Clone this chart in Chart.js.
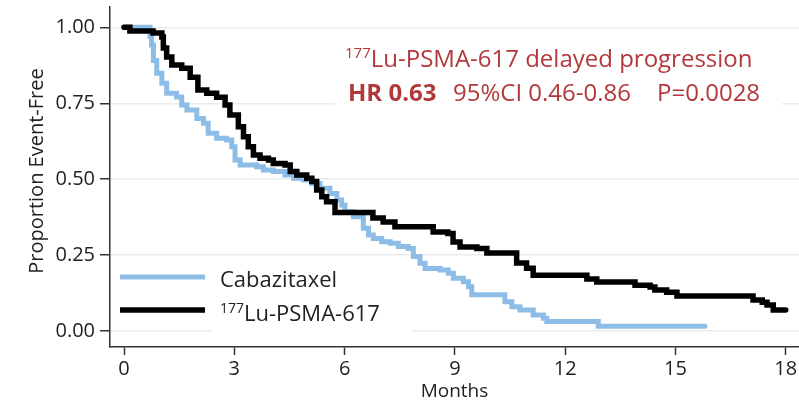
<!DOCTYPE html>
<html><head><meta charset="utf-8">
<script src="https://cdn.jsdelivr.net/npm/chart.js@4"></script>
<style>html,body{margin:0;padding:0;background:#fff}#wrap{width:799px;height:404px}</style>
</head><body><div id="wrap"><canvas id="c" width="799" height="404"></canvas></div>
<script>
// ---- data ----
const seriesNames = ['Cabazitaxel', '177Lu-PSMA-617'];
const months_cab = [0, 0.71, 0.75, 0.80, 0.89, 1.03, 1.16, 1.43, 1.57, 1.71, 1.98, 2.16, 2.29, 2.52, 2.79, 2.93, 3.02, 3.16, 3.61, 3.79, 4.06, 4.38, 4.61, 4.88, 5.11, 5.33, 5.60, 5.79, 5.92, 6.01, 6.24, 6.51, 6.65, 6.78, 7.01, 7.24, 7.46, 7.73, 7.87, 8.05, 8.19, 8.60, 8.82, 8.96, 9.23, 9.37, 9.46, 10.36, 10.55, 10.77, 11.13, 11.41, 11.50, 12.90, 15.80];
const surv_cab = [1.0, 0.970, 0.942, 0.891, 0.849, 0.816, 0.783, 0.771, 0.744, 0.728, 0.700, 0.684, 0.651, 0.635, 0.629, 0.607, 0.563, 0.547, 0.541, 0.530, 0.525, 0.514, 0.503, 0.497, 0.486, 0.470, 0.453, 0.431, 0.415, 0.393, 0.376, 0.338, 0.316, 0.305, 0.294, 0.289, 0.278, 0.272, 0.245, 0.223, 0.206, 0.201, 0.190, 0.174, 0.162, 0.146, 0.119, 0.096, 0.080, 0.069, 0.053, 0.042, 0.031, 0.016, 0.016];
const months_lu = [0, 0.16, 0.79, 1.03, 1.07, 1.16, 1.30, 1.57, 1.80, 2.01, 2.25, 2.52, 2.75, 2.88, 3.11, 3.25, 3.38, 3.52, 3.70, 3.93, 4.06, 4.38, 4.52, 4.70, 4.97, 5.11, 5.24, 5.38, 5.51, 5.74, 6.77, 7.05, 7.37, 8.41, 8.81, 8.95, 9.14, 9.60, 9.87, 10.68, 10.95, 11.13, 12.59, 12.86, 13.90, 14.31, 14.44, 14.76, 15.04, 17.11, 17.36, 17.49, 17.66, 18.0];
const surv_lu = [1.0, 0.988, 0.981, 0.968, 0.932, 0.902, 0.876, 0.865, 0.836, 0.794, 0.783, 0.770, 0.744, 0.711, 0.673, 0.640, 0.607, 0.580, 0.569, 0.563, 0.552, 0.547, 0.525, 0.514, 0.503, 0.492, 0.464, 0.442, 0.426, 0.390, 0.372, 0.359, 0.343, 0.326, 0.321, 0.293, 0.277, 0.272, 0.257, 0.224, 0.207, 0.184, 0.171, 0.161, 0.151, 0.145, 0.135, 0.128, 0.115, 0.102, 0.095, 0.086, 0.069, 0.069];
const xTicks = [0, 3, 6, 9, 12, 15, 18];
const yTicks = [0, 0.25, 0.5, 0.75, 1.0];
const yTitle = 'Proportion Event-Free';
const xTitle = 'Months';
const annoLine1 = '177Lu-PSMA-617 delayed progression';
const annoHR = 'HR 0.63';
const annoCI = '95%CI 0.46-0.86';
const annoP = 'P=0.0028';

// ---- style ----
const FONT = '"Open Sans", Lato, sans-serif';
const RED = '#b3383b';
const BLUE = '#8dbde6';
const BLACK = '#000000';
const TXT = '#222222';

function toPts(xs, ys) { return xs.map((x, i) => ({ x: x, y: ys[i] })); }

function drawIso(ctx, text, x, y, size, weight, color) {
  const m = text.match(/^(\d+)(.*)$/);
  ctx.fillStyle = color; ctx.textBaseline = 'alphabetic'; ctx.textAlign = 'left';
  let cx = x;
  if (m) {
    ctx.font = weight + ' ' + Math.round(size * 0.62) + 'px ' + FONT;
    ctx.fillText(m[1], cx, y - size * 0.36);
    cx += ctx.measureText(m[1]).width;
    text = m[2];
  }
  ctx.font = weight + ' ' + size + 'px ' + FONT;
  ctx.fillText(text, cx, y);
  return cx + ctx.measureText(text).width;
}

const overlay = {
  id: 'overlay',
  beforeDatasetsDraw(chart) {
    const ctx = chart.ctx;
    ctx.save();
    ctx.fillStyle = '#fff';
    ctx.fillRect(335, 36, 447, 76);
    ctx.fillRect(212, 262, 200, 80);
    // y title
    ctx.save();
    ctx.translate(37, 171);
    ctx.rotate(-Math.PI / 2);
    ctx.fillStyle = TXT; ctx.font = '20px ' + FONT; ctx.textAlign = 'center'; ctx.textBaseline = 'middle';
    ctx.fillText(yTitle, 0, 0);
    ctx.restore();
    // legend
    const ds = chart.data.datasets;
    const rows = [{ i: 1, y: 277, base: 287 }, { i: 0, y: 310, base: 321 }];
    rows.forEach(r => {
      const d = ds[r.i];
      ctx.strokeStyle = d.borderColor; ctx.lineWidth = d.borderWidth; ctx.lineCap = 'butt';
      ctx.beginPath(); ctx.moveTo(120, r.y); ctx.lineTo(205, r.y); ctx.stroke();
      drawIso(ctx, d.label, 220, r.base, 22, 'normal', TXT);
    });
    // annotation
    drawIso(ctx, annoLine1, 345, 67, 24, 'normal', RED);
    ctx.fillStyle = RED; ctx.textBaseline = 'alphabetic'; ctx.textAlign = 'left';
    ctx.font = 'bold 24px ' + FONT; ctx.fillText(annoHR, 348, 101);
    ctx.font = 'normal 24px ' + FONT; ctx.fillText(annoCI, 453, 101);
    ctx.fillText(annoP, 657, 101);
    ctx.restore();
  }
};

new Chart(document.getElementById('c'), {
  type: 'line',
  data: {
    datasets: [
      { label: seriesNames[1], data: toPts(months_lu, surv_lu), borderColor: BLACK, borderWidth: 5.5, stepped: true, pointRadius: 0, fill: false, order: 0, borderCapStyle: 'round', borderJoinStyle: 'miter' },
      { label: seriesNames[0], data: toPts(months_cab, surv_cab), borderColor: BLUE, borderWidth: 5, stepped: true, pointRadius: 0, fill: false, order: 1, borderCapStyle: 'round', borderJoinStyle: 'miter' }
    ]
  },
  options: {
    responsive: false, animation: false,
    layout: { padding: { top: 7, right: 0, left: 0, bottom: 0 } },
    plugins: { legend: { display: false }, tooltip: { enabled: false } },
    scales: {
      x: {
        type: 'linear', min: -0.381, max: 18.36,
        afterBuildTicks: s => { s.ticks = xTicks.map(v => ({ value: v })); },
        afterFit: s => { s.height = 57; s.paddingLeft = 0; s.paddingRight = 0; },
        ticks: { color: TXT, font: { family: FONT, size: 20 }, padding: 2, maxRotation: 0, autoSkip: false },
        grid: { drawOnChartArea: false, tickLength: 8, tickColor: '#333', tickWidth: 1.5 },
        border: { color: '#333', width: 1.5 },
        title: { display: true, text: xTitle, color: TXT, font: { family: FONT, size: 19 }, padding: { top: 0, bottom: 1 } }
      },
      y: {
        type: 'linear', min: -0.0527, max: 1.067,
        afterBuildTicks: s => { s.ticks = yTicks.map(v => ({ value: v })); },
        afterFit: s => { s.width = 110; s.paddingTop = 0; s.paddingBottom = 0; },
        ticks: { color: TXT, font: { family: FONT, size: 20 }, padding: 5, callback: v => Number(v).toFixed(2) },
        grid: { color: '#ebebeb', lineWidth: 1.5, tickLength: 10, tickColor: '#333', tickWidth: 1.5 },
        border: { color: '#333', width: 1.5 },
        title: { display: false }
      }
    }
  },
  plugins: [overlay]
});
</script>
</body></html>
